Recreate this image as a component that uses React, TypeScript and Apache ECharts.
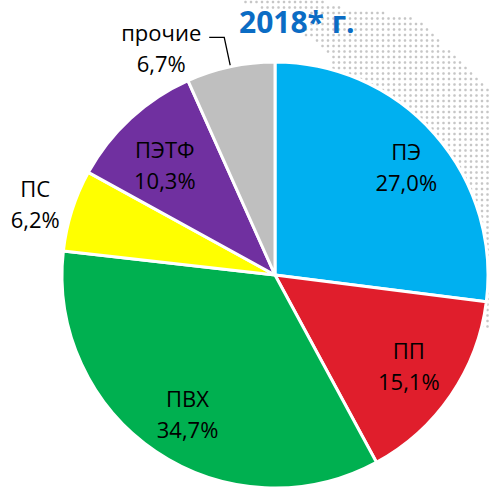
import React, { useEffect, useRef } from "react";
import * as echarts from "echarts";

const categories = ["ПЭ", "ПП", "ПВХ", "ПС", "ПЭТФ", "прочие"];
const shares = [27.0, 15.1, 34.7, 6.2, 10.3, 6.7];
const titleText = "2018* г.";

const palette = ["#00b0f0", "#e01e2c", "#00b050", "#ffff00", "#7030a0", "#bfbfbf"];
const outsideNames = ["ПС", "прочие"];

// rough outline of the dotted background map (decoration)
const mapOutline: [number, number][] = [
  [243, 0], [322, 0], [345, 8], [378, 10], [395, 16], [420, 20], [432, 33],
  [447, 50], [470, 67], [484, 83], [492, 95], [492, 330], [400, 330],
  [333, 120], [333, 60], [313, 40], [300, 33], [318, 16], [300, 9], [243, 7],
];

function inPoly(x: number, y: number, poly: [number, number][]) {
  let inside = false;
  for (let i = 0, j = poly.length - 1; i < poly.length; j = i++) {
    const [xi, yi] = poly[i];
    const [xj, yj] = poly[j];
    if (yi > y !== yj > y && x < ((xj - xi) * (y - yi)) / (yj - yi) + xi) inside = !inside;
  }
  return inside;
}

const fmtPct = (v: number) => v.toFixed(1).replace(".", ",") + "%";
const FONT = "Open Sans";

export default function App() {
  const ref = useRef<HTMLDivElement>(null);
  useEffect(() => {
    if (!ref.current) return;
    const chart = echarts.init(ref.current, undefined, { renderer: "svg" });

    const dots: any[] = [];
    for (let y = 2; y < 330; y += 5.5) {
      for (let x = 240; x < 492; x += 5.5) {
        if (inPoly(x, y, mapOutline)) {
          dots.push({
            type: "circle",
            shape: { cx: x, cy: y, r: 1.3 },
            style: { fill: "#c6c6c6" },
            silent: true,
            z: 0,
          });
        }
      }
    }

    const outsideLabel = (name: string) => {
      if (name === "ПС") {
        return {
          label: {
            show: true,
            position: "outside",
            padding: [0, 0, 12, 0],
          },
          labelLine: { show: false, length: 3, length2: 4 },
        };
      }
      return {
        label: {
          show: true,
          position: "outside",
          padding: [21, 0, 0, 0],
        },
        labelLine: {
          show: true,
          length: 30,
          length2: 15,
          smooth: false,
          lineStyle: { color: "#000", width: 1.3 },
        },
      };
    };

    const richStyle = {
      a: { width: 86, align: "center", fontSize: 22, lineHeight: 31, color: "#000", fontFamily: FONT },
      s: { width: 50, align: "center", fontSize: 22, lineHeight: 31, color: "#000", fontFamily: FONT },
    };

    chart.setOption({
      animation: false,
      title: {
        text: titleText,
        left: 234,
        top: 1,
        textStyle: { color: "#0b6cc4", fontSize: 30, fontWeight: "bold", fontFamily: FONT },
      },
      graphic: { elements: dots },
      series: [
        {
          type: "pie",
          z: 2,
          center: [275, 275],
          radius: 213,
          startAngle: 90,
          clockwise: true,
          avoidLabelOverlap: false,
          itemStyle: { borderColor: "#ffffff", borderWidth: 3 },
          label: {
            show: false,
            formatter: (p: any) =>
              p.name === "ПС"
                ? `{s|${p.name}}\n{s|${fmtPct(p.value)}}`
                : `{a|${p.name}}\n{a|${fmtPct(p.value)}}`,
            rich: richStyle,
          },
          labelLine: { show: false },
          emphasis: { disabled: true },
          data: categories.map((c, i) => {
            const base: any = { name: c, value: shares[i], itemStyle: { color: palette[i] } };
            if (outsideNames.includes(c)) Object.assign(base, outsideLabel(c));
            return base;
          }),
        },
        {
          type: "pie",
          z: 3,
          silent: true,
          center: [275, 275],
          radius: [110, 218],
          startAngle: 90,
          clockwise: true,
          avoidLabelOverlap: false,
          itemStyle: { color: "rgba(0,0,0,0)", borderWidth: 0 },
          label: {
            show: true,
            position: "inside",
            formatter: (p: any) => `${p.name}\n${fmtPct(p.value)}`,
            color: "#000",
            fontSize: 22,
            lineHeight: 31,
            fontFamily: FONT,
          },
          labelLayout: (p: any) => {
            const n = categories[p.dataIndex];
            if (n === "ПЭТФ") return { dy: 12, dx: 3 };
            if (n === "ПЭ") return { dx: 6, dy: 2 };
            if (n === "ПВХ") return { dx: 6 };
            if (n === "ПП") return { dx: -4, dy: -4 };
            return {};
          },
          labelLine: { show: false },
          emphasis: { disabled: true },
          data: categories.map((c, i) => ({
            name: c,
            value: shares[i],
            label: { show: !outsideNames.includes(c) },
          })),
        },
      ],
    });
    return () => chart.dispose();
  }, []);
  return (
    <div
      ref={ref}
      style={{ position: "fixed", left: 0, top: 0, width: 490, height: 493, background: "#fff" }}
    />
  );
}
